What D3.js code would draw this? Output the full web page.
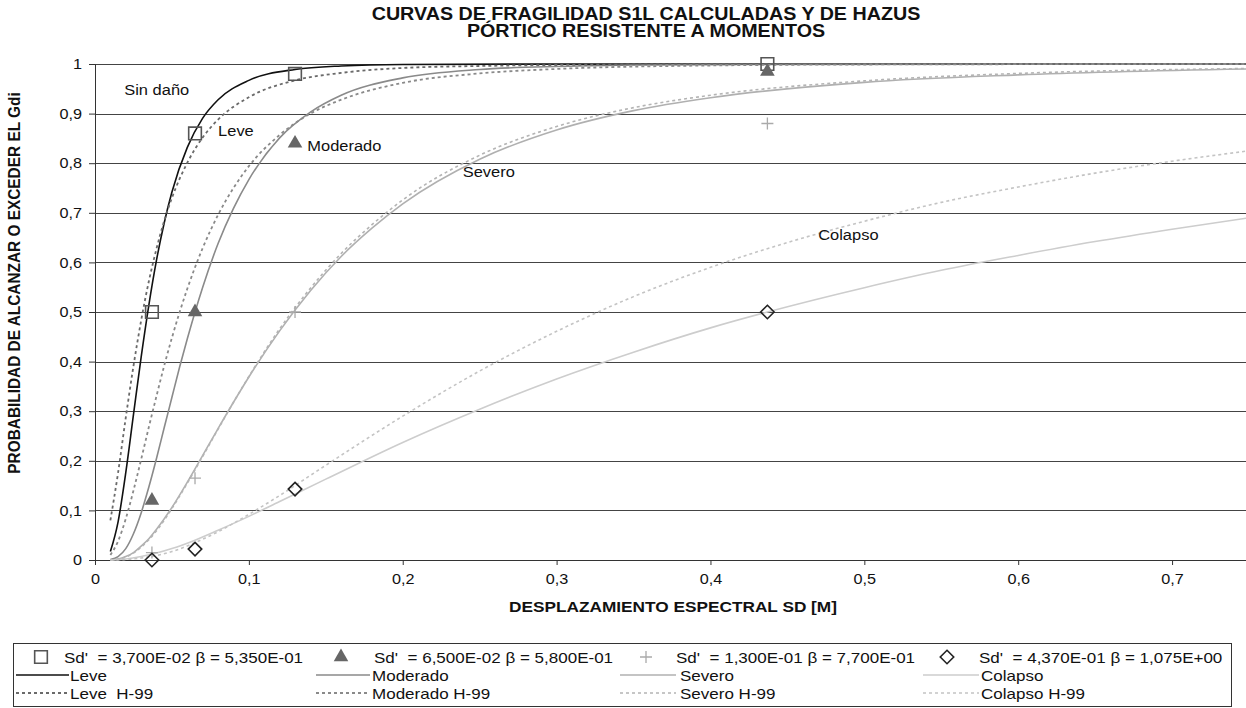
<!DOCTYPE html>
<html>
<head>
<meta charset="utf-8">
<script src="https://cdn.jsdelivr.net/npm/d3@7"></script>
<style>
  body { margin: 0; background: #fff; }
  text { font-family: "Liberation Sans", Arial, sans-serif; fill: #111; }
</style>
</head>
<body>
<script>
// ---- data ----
var xTicks = [0, 0.1, 0.2, 0.3, 0.4, 0.5, 0.6, 0.7];
var yTicks = [0, 0.1, 0.2, 0.3, 0.4, 0.5, 0.6, 0.7, 0.8, 0.9, 1];

var markerX = [0.037, 0.065, 0.13, 0.437];
var squareY = [0.5, 0.86, 0.98, 1.0];
var triangleY = [0.12, 0.5, 0.84, 0.985];
var plusY = [0.015, 0.165, 0.5, 0.88];
var diamondY = [0.0, 0.022, 0.143, 0.5];

var leveX = [0.01, 0.015, 0.02, 0.025, 0.03, 0.035, 0.04, 0.045, 0.05, 0.06, 0.07, 0.08, 0.1, 0.13, 0.16, 0.2, 0.3, 0.75];
var leveY = [0.017, 0.077, 0.176, 0.293, 0.409, 0.514, 0.605, 0.68, 0.742, 0.832, 0.891, 0.928, 0.967, 0.989, 0.996, 0.999, 1, 1];
var leveH99X = [0.01, 0.015, 0.02, 0.025, 0.03, 0.035, 0.04, 0.045, 0.05, 0.06, 0.07, 0.08, 0.1, 0.13, 0.16, 0.2, 0.25, 0.3, 0.4, 0.75];
var leveH99Y = [0.08, 0.176, 0.287, 0.391, 0.483, 0.562, 0.628, 0.684, 0.73, 0.801, 0.852, 0.888, 0.933, 0.967, 0.982, 0.992, 0.996, 0.998, 0.9995, 1];

var moderadoX = [0.01, 0.015, 0.02, 0.025, 0.03, 0.035, 0.04, 0.045, 0.05, 0.055, 0.06, 0.07, 0.08, 0.09, 0.1, 0.12, 0.14, 0.16, 0.2, 0.25, 0.3, 0.4, 0.75];
var moderadoY = [0.001, 0.007, 0.023, 0.053, 0.095, 0.147, 0.205, 0.267, 0.328, 0.389, 0.446, 0.55, 0.638, 0.709, 0.767, 0.851, 0.903, 0.937, 0.972, 0.989, 0.995, 0.999, 1];
var moderadoH99X = [0.01, 0.015, 0.02, 0.025, 0.03, 0.035, 0.04, 0.045, 0.05, 0.06, 0.07, 0.08, 0.09, 0.1, 0.12, 0.14, 0.16, 0.2, 0.25, 0.3, 0.4, 0.5, 0.75];
var moderadoH99Y = [0.01, 0.038, 0.083, 0.14, 0.203, 0.268, 0.331, 0.392, 0.448, 0.547, 0.629, 0.696, 0.75, 0.794, 0.857, 0.9, 0.928, 0.962, 0.981, 0.99, 0.997, 0.999, 1];

var severoX = [0.01, 0.015, 0.02, 0.025, 0.03, 0.035, 0.04, 0.05, 0.06, 0.07, 0.08, 0.09, 0.1, 0.12, 0.14, 0.16, 0.18, 0.2, 0.25, 0.3, 0.35, 0.4, 0.5, 0.6, 0.75];
var severoY = [0, 0.002, 0.007, 0.015, 0.028, 0.043, 0.062, 0.106, 0.157, 0.211, 0.265, 0.318, 0.369, 0.462, 0.543, 0.612, 0.669, 0.718, 0.808, 0.867, 0.906, 0.932, 0.963, 0.978, 0.99];
var severoH99X = [0.01, 0.015, 0.02, 0.025, 0.03, 0.035, 0.04, 0.05, 0.06, 0.07, 0.08, 0.09, 0.1, 0.12, 0.14, 0.16, 0.18, 0.2, 0.25, 0.3, 0.35, 0.4, 0.5, 0.6, 0.75];
var severoH99Y = [0, 0.002, 0.006, 0.014, 0.026, 0.041, 0.059, 0.104, 0.155, 0.209, 0.264, 0.318, 0.37, 0.466, 0.548, 0.618, 0.676, 0.726, 0.816, 0.874, 0.912, 0.937, 0.966, 0.981, 0.991];

var colapsoX = [0.01, 0.02, 0.03, 0.04, 0.05, 0.065, 0.08, 0.1, 0.12, 0.15, 0.2, 0.25, 0.3, 0.35, 0.4, 0.437, 0.5, 0.55, 0.6, 0.65, 0.7, 0.75];
var colapsoY = [0, 0.002, 0.007, 0.014, 0.023, 0.04, 0.06, 0.088, 0.118, 0.163, 0.237, 0.304, 0.365, 0.419, 0.468, 0.5, 0.549, 0.584, 0.614, 0.642, 0.667, 0.69];
var colapsoH99X = [0.01, 0.02, 0.03, 0.04, 0.05, 0.065, 0.08, 0.1, 0.12, 0.15, 0.2, 0.25, 0.3, 0.35, 0.4, 0.45, 0.5, 0.55, 0.6, 0.65, 0.7, 0.75];
var colapsoH99Y = [0, 0.001, 0.004, 0.009, 0.017, 0.035, 0.057, 0.092, 0.13, 0.191, 0.29, 0.381, 0.461, 0.531, 0.59, 0.64, 0.683, 0.721, 0.752, 0.78, 0.804, 0.825];

var titleLines = ['CURVAS DE FRAGILIDAD S1L CALCULADAS Y DE HAZUS', 'PÓRTICO RESISTENTE A MOMENTOS'];
var markerLabels = ["Sd'  = 3,700E-02 β = 5,350E-01", "Sd'  = 6,500E-02 β = 5,800E-01", "Sd'  = 1,300E-01 β = 7,700E-01", "Sd'  = 4,370E-01 β = 1,075E+00"];

// ---- layout ----
var W = 1246, H = 708;
var margin = {top: 64, bottom: 148, left: 95};
var width = 1249 - margin.left;
var height = H - margin.top - margin.bottom;
var stretch = 1.12; // the reference text is a little wide

var svg = d3.select('body').append('svg')
    .attr('width', W)
    .attr('height', H);

var xScale = d3.scaleLinear().domain([0, 0.75]).range([0, width]);
var yScale = d3.scaleLinear().domain([0, 1]).range([height, 0]);

function wideText(sel, x, y, txt, size, bold, anchor) {
    return sel.append('text')
        .attr('transform', 'translate(' + x + ',' + y + ') scale(' + stretch + ',1)')
        .attr('text-anchor', anchor || 'start')
        .style('font-size', size + 'px')
        .style('font-weight', bold ? 'bold' : 'normal')
        .style('white-space', 'pre')
        .text(txt);
}

// title
titleLines.forEach(function (t, i) {
    wideText(svg, 646, 19.5 + i * 17.5, t, 17.6, true, 'middle');
});

var g = svg.append('g')
    .attr('transform', 'translate(' + margin.left + ',' + margin.top + ')');

// gridlines
g.append('g').selectAll('line')
    .data(yTicks.slice(1))
    .enter().append('line')
    .attr('x1', 0)
    .attr('x2', width)
    .attr('y1', function (d) { return Math.round(yScale(d)) + 0.5; })
    .attr('y2', function (d) { return Math.round(yScale(d)) + 0.5; })
    .attr('stroke', '#444')
    .attr('stroke-width', 1);

// axes
var fmt = function (d) { return d3.format('.1~f')(d).replace('.', ','); };
var yAxis = g.append('g')
    .call(d3.axisLeft(yScale).tickValues(yTicks).tickSize(6).tickPadding(7).tickFormat(fmt));
var xAxis = g.append('g')
    .attr('transform', 'translate(0,' + height + ')')
    .call(d3.axisBottom(xScale).tickValues(xTicks).tickSize(5).tickPadding(9).tickFormat(fmt));

[xAxis, yAxis].forEach(function (ax) {
    ax.select('.domain').attr('stroke', '#333');
    ax.selectAll('.tick line').attr('stroke', '#333');
    ax.selectAll('.tick text')
        .style('font-size', '14.5px')
        .style('font-family', '"Liberation Sans", Arial, sans-serif')
        .attr('fill', '#111');
});
yAxis.selectAll('.tick text').each(function () {
    var t = d3.select(this);
    var x = +t.attr('x');
    t.attr('x', 0).attr('transform', 'translate(' + x + ',0) scale(' + stretch + ',1)');
});
xAxis.selectAll('.tick text').attr('transform', 'scale(' + stretch + ',1)');

// axis titles
wideText(svg, 673, 612, 'DESPLAZAMIENTO ESPECTRAL SD [M]', 15.4, true, 'middle');

svg.append('text')
    .attr('transform', 'translate(20,283) scale(' + stretch + ',1) rotate(-90)')
    .attr('text-anchor', 'middle')
    .style('font-weight', 'bold')
    .style('font-size', '15.4px')
    .text('PROBABILIDAD DE ALCANZAR O EXCEDER EL Gdi');

// curves
var curves = [
    {name: 'Leve', xs: leveX, ys: leveY, color: '#111', dash: null, w: 1.6},
    {name: 'Moderado', xs: moderadoX, ys: moderadoY, color: '#8a8a8a', dash: null, w: 1.6},
    {name: 'Severo', xs: severoX, ys: severoY, color: '#b0b0b0', dash: null, w: 1.6},
    {name: 'Colapso', xs: colapsoX, ys: colapsoY, color: '#cdcdcd', dash: null, w: 1.6},
    {name: 'Leve  H-99', xs: leveH99X, ys: leveH99Y, color: '#6a6a6a', dash: '3,3', w: 1.8},
    {name: 'Moderado H-99', xs: moderadoH99X, ys: moderadoH99Y, color: '#8a8a8a', dash: '3,3', w: 1.8},
    {name: 'Severo H-99', xs: severoH99X, ys: severoH99Y, color: '#b4b4b4', dash: '3,3', w: 1.6},
    {name: 'Colapso H-99', xs: colapsoH99X, ys: colapsoH99Y, color: '#c4c4c4', dash: '3,3', w: 1.6}
];

var line = d3.line()
    .x(function (d) { return xScale(d[0]); })
    .y(function (d) { return yScale(d[1]); })
    .curve(d3.curveMonotoneX);

g.append('g').selectAll('path')
    .data(curves)
    .enter().append('path')
    .attr('d', function (c) { return line(d3.zip(c.xs, c.ys)); })
    .attr('fill', 'none')
    .attr('stroke', function (c) { return c.color; })
    .attr('stroke-width', function (c) { return c.w; })
    .attr('stroke-dasharray', function (c) { return c.dash; });

// markers
var markerSets = [
    {ys: squareY, type: d3.symbolSquare, size: 160, fill: 'none', stroke: '#555', sw: 1.6},
    {ys: triangleY, type: d3.symbolTriangle, size: 92, fill: '#666', stroke: 'none', sw: 0},
    {ys: plusY, type: 'plus', size: 0, fill: 'none', stroke: '#aaa', sw: 1.3},
    {ys: diamondY, type: d3.symbolDiamond2, size: 115, fill: 'none', stroke: '#222', sw: 1.6}
];

function drawSymbol(sel, m, cx, cy) {
    if (m.type === 'plus') {
        sel.append('path')
            .attr('d', 'M' + (cx - 6) + ',' + cy + 'H' + (cx + 6) + 'M' + cx + ',' + (cy - 6) + 'V' + (cy + 6))
            .attr('stroke', m.stroke)
            .attr('stroke-width', m.sw)
            .attr('fill', 'none');
    } else {
        sel.append('path')
            .attr('d', d3.symbol().type(m.type).size(m.size)())
            .attr('transform', 'translate(' + cx + ',' + cy + ')')
            .attr('fill', m.fill)
            .attr('stroke', m.stroke)
            .attr('stroke-width', m.sw);
    }
}

var markerG = g.append('g');
markerSets.forEach(function (m) {
    m.ys.forEach(function (y, i) {
        drawSymbol(markerG, m, xScale(markerX[i]), yScale(y));
    });
});

// in-plot labels
var stateLabels = [
    {t: 'Sin daño', x: 0.019, y: 0.948},
    {t: 'Leve', x: 0.08, y: 0.866},
    {t: 'Moderado', x: 0.138, y: 0.836},
    {t: 'Severo', x: 0.239, y: 0.783},
    {t: 'Colapso', x: 0.47, y: 0.657}
];
var labelG = g.append('g');
stateLabels.forEach(function (d) {
    wideText(labelG, xScale(d.x), yScale(d.y) + 5.5, d.t, 14.7, false);
});

// legend
var leg = svg.append('g');
leg.append('rect')
    .attr('x', 13.5).attr('y', 643.5)
    .attr('width', 1218).attr('height', 63)
    .attr('fill', 'none').attr('stroke', '#333');

var colSym = [41, 341, 646, 947];
var colTxt = [64, 374, 676, 979];
var colLine = [[16, 69], [316, 370], [620, 676], [923, 979]];
var colLineTxt = [70, 372, 680, 981];
var rowY = [657, 675, 693];

markerSets.forEach(function (m, i) {
    drawSymbol(leg, m, colSym[i], rowY[0]);
    wideText(leg, colTxt[i], rowY[0] + 5.5, markerLabels[i], 15.2, false);
});

curves.forEach(function (c, i) {
    var col = i % 4, row = 1 + Math.floor(i / 4);
    leg.append('line')
        .attr('x1', colLine[col][0]).attr('x2', colLine[col][1])
        .attr('y1', rowY[row]).attr('y2', rowY[row])
        .attr('stroke', c.color).attr('stroke-width', c.w)
        .attr('stroke-dasharray', c.dash);
    wideText(leg, colLineTxt[col], rowY[row] + 5.5, c.name, 15.2, false);
});
</script>
</body>
</html>
